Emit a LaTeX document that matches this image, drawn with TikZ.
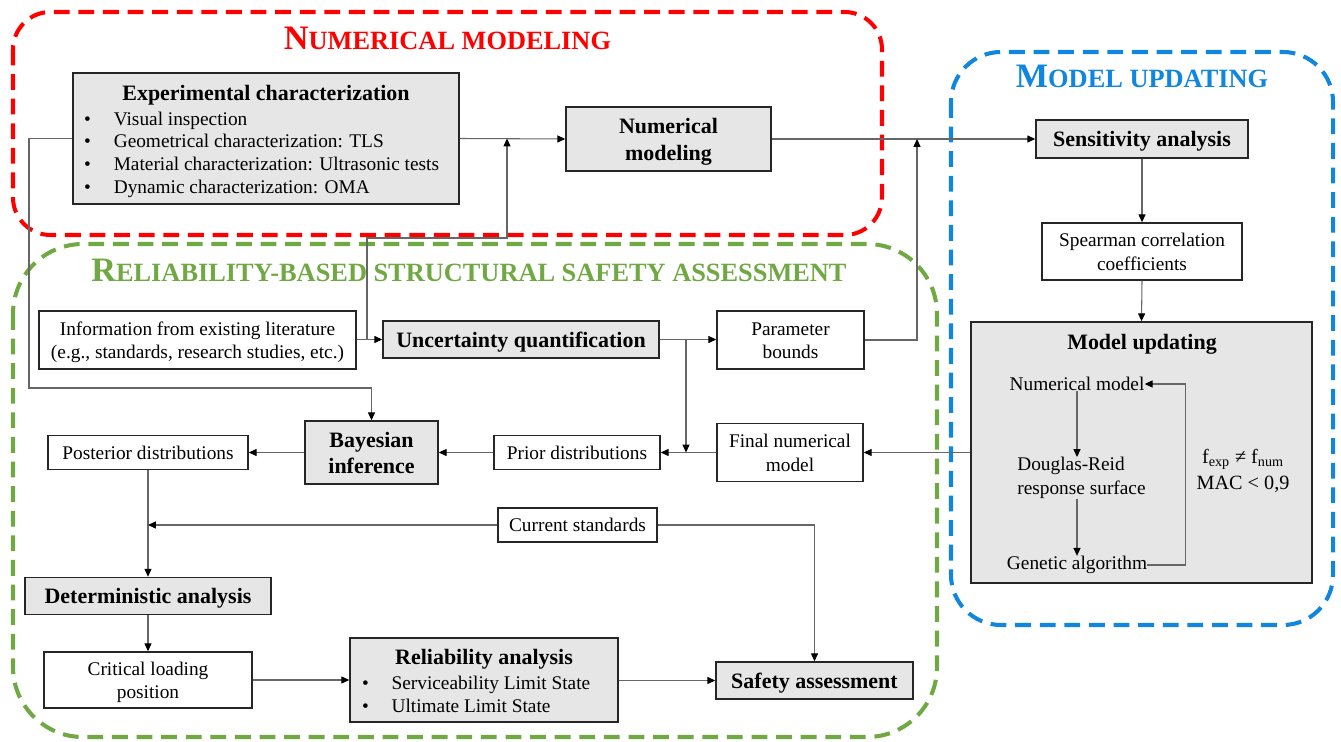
\documentclass[tikz,border=0pt]{standalone}
\usepackage{fontspec}
\setmainfont{Liberation Serif}
\usetikzlibrary{arrows.meta}
\definecolor{numred}{RGB}{255,0,0}
\definecolor{relgreen}{RGB}{112,168,68}
\definecolor{updblue}{RGB}{16,134,222}
\definecolor{boxgray}{RGB}{230,230,230}
\newcommand{\capsmall}[2]{{\fontsize{19.5}{20}\selectfont #1}{\fontsize{15}{16}\selectfont #2}}
\newcommand{\listfont}{\normalfont\fontsize{11}{13}\selectfont}
\newcommand{\twolines}[2]{\rule{0pt}{1em}#1\\#2\rule[-0.27em]{0pt}{0pt}}

\begin{document}
\begin{tikzpicture}[x=0.02cm, y=-0.02cm,
    box/.style={draw=black!85, line width=0.85pt, fill=white, inner sep=0pt, align=center,
        font=\fontsize{11}{13.5}\selectfont,
        execute at begin node={\rule{0pt}{10.5pt}}, execute at end node={\rule[-2.8pt]{0pt}{0pt}}},
    graybox/.style={box, fill=boxgray, font=\bfseries\fontsize{12.5}{15}\selectfont,
        execute at begin node={\rule{0pt}{12pt}}, execute at end node={\rule[-3.2pt]{0pt}{0pt}}},
    wh/.style 2 args={minimum width=#1*0.02cm, minimum height=#2*0.02cm},
    link/.style={draw=black!60, line width=0.6pt},
    arr/.style={link, -{Triangle[length=4.5pt, width=4pt, black]}},
    region/.style={line width=2.3pt, dash pattern=on 9pt off 5pt},
    grouptitle/.style={inner sep=0pt, font=\bfseries, anchor=base},
    txt/.style={inner sep=0pt, align=center, font=\fontsize{11}{13.5}\selectfont}]
    \useasboundingbox (0,0) rectangle (1341,742);

    \draw [region, draw=numred, rounded corners=0.75cm] (13,12) rectangle (882,235);
    \draw [region, draw=relgreen, rounded corners=1.4cm] (13,244) rectangle (937,737);
    \draw [region, draw=updblue, rounded corners=1cm] (951,52) rectangle (1333,625);
    \node [grouptitle, text=numred] (numtitle) at (447.5,50) {\capsmall{N}{UMERICAL MODELING}};
    \node [grouptitle, text=relgreen] (reltitle) at (469,282) {\capsmall{R}{ELIABILITY-BASED STRUCTURAL SAFETY ASSESSMENT}};
    \node [grouptitle, text=updblue] (updtitle) at (1142,88) {\capsmall{M}{ODEL UPDATING}};

    \node [graybox, wh={386}{131}] (expchar) at (266,138.5) {\rule{0pt}{13.7pt}Experimental characterization\\[-1pt]
        \hspace*{-5pt}{\listfont\begin{tabular}[t]{@{}l@{\hspace{13pt}}l@{}}
            \textbullet & Visual inspection\\
            \textbullet & Geometrical characterization: TLS\\
            \textbullet & Material characterization: Ultrasonic tests\\
            \textbullet & Dynamic characterization: OMA
        \end{tabular}}};
    \node [graybox, wh={205}{64}] (nummod) at (668.5,139) {\twolines{Numerical}{modeling}};
    \node [graybox, wh={212}{38}] (sens) at (1142,139) {Sensitivity analysis};
    \node [box, wh={200}{57}] (spearman) at (1142,251.5) {\twolines{Spearman correlation}{coefficients}};
    \node [graybox, wh={341}{261}] (mupd) at (1141.5,452.5) {};
    \node [txt, font=\bfseries\fontsize{12.5}{14.5}\selectfont] (mupdtitle) at (1142,344) {Model updating};
    \node [txt] (nummodel) at (1077,384) {Numerical model};
    \node [txt, align=left, anchor=west] (douglas) at (1017,478) {Douglas-Reid\\response surface};
    \node [txt] (genetic) at (1077,565) {Genetic algorithm};
    \node [txt, font=\fontsize{11.5}{14.5}\selectfont] (cond) at (1243,471) {f\textsubscript{exp} ≠ f\textsubscript{num}\\MAC < 0,9};

    \node [box, wh={317}{58}] (info) at (197.5,340) {\twolines{Information from existing literature}{(e.g., standards, research studies, etc.)}};
    \node [graybox, wh={276}{37}] (uncert) at (521,339.5) {Uncertainty quantification};
    \node [box, wh={147}{58}] (param) at (790.5,340) {\twolines{Parameter}{bounds}};
    \node [graybox, wh={133}{63}] (bayes) at (371.5,452.5) {\twolines{Bayesian}{inference}};
    \node [box, wh={200}{34}] (posterior) at (148,452.5) {Posterior distributions};
    \node [box, wh={166}{34}] (prior) at (577,452.5) {Prior distributions};
    \node [box, wh={146}{58}] (final) at (790,452.5) {\twolines{Final numerical}{model}};
    \node [box, wh={159}{34}] (curstd) at (577.5,525) {Current standards};
    \node [graybox, wh={246}{37}] (determ) at (148,596) {Deterministic analysis};
    \node [box, wh={208}{56}] (critical) at (148,680) {\twolines{Critical loading}{position}};
    \node [graybox, wh={268}{84}] (reliab) at (484,680) {\rule{0pt}{13.7pt}Reliability analysis\\[-1pt]
        \hspace*{-9pt}{\listfont\begin{tabular}[t]{@{}l@{\hspace{13pt}}l@{}}
            \textbullet & Serviceability Limit State\\
            \textbullet & Ultimate Limit State
        \end{tabular}}};
    \node [graybox, wh={197}{37}] (safety) at (814.5,680.5) {Safety assessment};

    \coordinate (lbend) at (29,388);
    \coordinate (infojoin) at (367,339.5);
    \coordinate (upbend) at (507,238);
    \coordinate (uqdown) at (686,339.5);
    \coordinate (pup) at (917,139);

    \draw [arr] (expchar.east) -- (nummod.west);
    \draw [arr] (nummod.east) -- (sens.west);
    \draw [arr] (sens.south) -- (spearman.north);
    \draw [arr] (spearman.south) -- (mupd.north);
    \draw [arr] (nummodel.south -| 1077,0) -- (douglas.north -| 1077,0);
    \draw [arr] (douglas.south -| 1077,0) -- (genetic.north -| 1077,0);
    \draw [arr] (genetic.east) -- ++(38,0) |- (nummodel.east);
    \draw [arr] (expchar.west) -| (lbend) -| (bayes.north);
    \draw [arr] (info.east |- uncert.west) -- (uncert.west);
    \draw [arr] (infojoin) |- (upbend) -- (upbend |- expchar.east);
    \draw [arr] (uncert.east) -- (uncert.east -| param.west);
    \draw [arr] (uqdown) -- (uqdown |- prior.east);
    \draw [arr] (param.east) -| (pup);
    \draw [arr] (mupd.west |- final.east) -- (final.east);
    \draw [arr] (final.west) -- (prior.east);
    \draw [arr] (prior.west) -- (bayes.east);
    \draw [arr] (bayes.west) -- (posterior.east);
    \draw [arr] (posterior.south) -- (determ.north);
    \draw [arr] (curstd.west) -- (curstd.west -| posterior.south);
    \draw [arr] (curstd.east) -| (safety.north);
    \draw [arr] (determ.south) -- (critical.north);
    \draw [arr] (critical.east) -- (critical.east -| reliab.west);
    \draw [arr] (reliab.east |- safety.west) -- (safety.west);
\end{tikzpicture}
\end{document}
